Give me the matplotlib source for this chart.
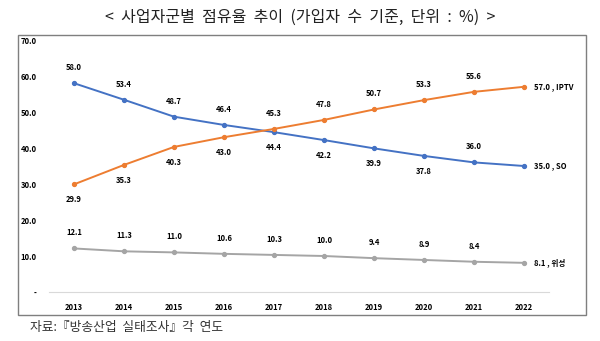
import matplotlib.pyplot as plt
from matplotlib.patches import Rectangle

plt.rcParams['font.family'] = ['Noto Sans CJK KR', 'DejaVu Sans']

years = ['2013', '2014', '2015', '2016', '2017', '2018', '2019', '2020', '2021', '2022']
so = [58.0, 53.4, 48.7, 46.4, 44.4, 42.2, 39.9, 37.8, 36.0, 35.0]
iptv = [29.9, 35.3, 40.3, 43.0, 45.3, 47.8, 50.7, 53.3, 55.6, 57.0]
sat = [12.1, 11.3, 11.0, 10.6, 10.3, 10.0, 9.4, 8.9, 8.4, 8.1]
# label position: 1 above, -1 below
so_pos = [1, 1, 1, 1, -1, -1, -1, -1, 1]
iptv_pos = [-1, -1, -1, -1, 1, 1, 1, 1, 1]
sat_pos = [1] * 9

fig = plt.figure(figsize=(6, 3.41), dpi=100)
# outer frame
fig.patches.append(Rectangle((18 / 600, 1 - 315 / 341), 568 / 600, 280 / 341,
                             transform=fig.transFigure, fill=False,
                             edgecolor='#7f7f7f', linewidth=1.0))
ax = fig.add_axes([49 / 600, 1 - 292 / 341, 500 / 600, 252 / 341])
x = list(range(len(years)))

series = [(so, so_pos, '#4472C4', 'SO'),
          (iptv, iptv_pos, '#ED7D31', 'IPTV'),
          (sat, sat_pos, '#A5A5A5', '위성')]
for vals, pos, col, nm in series:
    ax.plot(x, vals, color=col, linewidth=1.4, marker='o', markersize=2.8)
    for i in range(len(vals) - 1):
        off = 8 if pos[i] > 0 else -8
        ax.annotate(f'{vals[i]:.1f}', (x[i], vals[i]), xytext=(0, off),
                    textcoords='offset points', ha='center',
                    va='bottom' if pos[i] > 0 else 'top',
                    fontsize=5.5, fontweight='bold', color='#000000')
    ax.annotate(f'{vals[-1]:.1f} , {nm}', (x[-1], vals[-1]), xytext=(7, 0),
                textcoords='offset points', ha='left', va='center',
                fontsize=5.5, fontweight='bold', color='#000000')

ax.set_xlim(-0.5, 9.5)
ax.set_ylim(0, 70)
ax.set_xticks(x)
ax.set_xticklabels(years, fontsize=5.5, fontweight='bold')
ax.set_yticks(range(0, 71, 10))
ax.set_yticklabels(['-'] + [f'{v:.1f}' for v in range(10, 71, 10)],
                   fontsize=5.5, fontweight='bold')
ax.tick_params(length=0, pad=8)
ax.tick_params(axis='y', pad=9)
for s in ['top', 'right', 'left']:
    ax.spines[s].set_visible(False)
ax.spines['bottom'].set_color('#d9d9d9')
ax.spines['bottom'].set_linewidth(0.8)
ax.patch.set_alpha(0)

fig.text(0.5, 1 - 17 / 341, '<  사업자군별  점유율  추이  (가입자  수  기준,  단위  :  %)  >',
         ha='center', va='center', fontsize=11.5, fontweight='light', color='#222222')
fig.text(30 / 600, 1 - 327 / 341, '자료:『방송산업  실태조사』각  연도',
         ha='left', va='center', fontsize=9.2, fontweight='light', color='#333333')

fig.savefig('out.png', dpi=100)
